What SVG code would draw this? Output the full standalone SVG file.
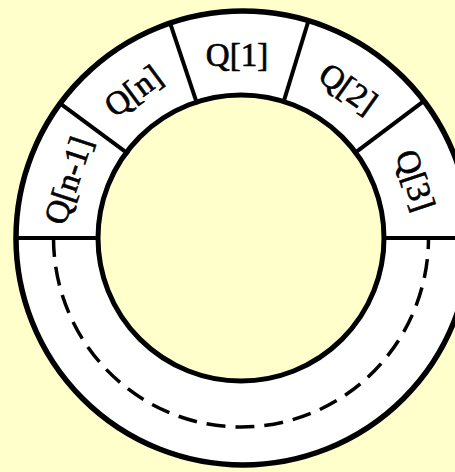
<svg xmlns="http://www.w3.org/2000/svg" width="455" height="472" viewBox="0 0 455 472">
<style>
.bg{fill:#FFFFCC}
.ring{fill:#FFFFFF;stroke:#000;stroke-width:5.5}
.hole{fill:#FFFFCC;stroke:#000;stroke-width:5}
.div{stroke:#000;stroke-width:4;stroke-linecap:butt;fill:none}
.dash{stroke:#000;stroke-width:3.5;fill:none;stroke-dasharray:19 10}
.lbl{font-family:"Liberation Serif","Times New Roman",serif;font-size:33px;fill:#000;stroke:#000;stroke-width:0.7;text-anchor:middle}
</style>
<rect class="bg" x="0" y="0" width="455" height="472"/>
<g id="ring">
<circle class="ring" cx="243" cy="238" r="227"/>
<circle class="hole" cx="241" cy="238" r="143"/>
</g>
<g id="connectors">
<line class="div" x1="169.7" y1="21.8" x2="197.3" y2="104.3"/>
<line class="div" x1="308.7" y1="20" x2="283.2" y2="103.2"/>
<line class="div" x1="58.7" y1="102.4" x2="128.6" y2="154.1"/>
<line class="div" x1="424.1" y1="100.8" x2="354.6" y2="153.1"/>
<line class="div" x1="14" y1="238" x2="100" y2="238"/>
<line class="div" x1="382" y1="238" x2="455" y2="238"/>
<path class="dash" d="M 53.5 238 A 187.5 189 0 0 0 428.5 238"/>
</g>
<g id="q1"><text class="lbl" transform="translate(237,57)" x="0" y="9">Q[1]</text></g>
<g id="q2"><text class="lbl" transform="translate(347,90) rotate(35.4)" x="0" y="9">Q[2]</text></g>
<g id="q3"><text class="lbl" transform="translate(413.5,181) rotate(71.6)" x="0" y="9">Q[3]</text></g>
<g id="qn"><text class="lbl" transform="translate(134.5,92.5) rotate(-36.5)" x="0" y="9">Q[n]</text></g>
<g id="qn1"><text class="lbl" transform="translate(70,181) rotate(-71.7)" x="0" y="9">Q[n-1]</text></g>
</svg>
